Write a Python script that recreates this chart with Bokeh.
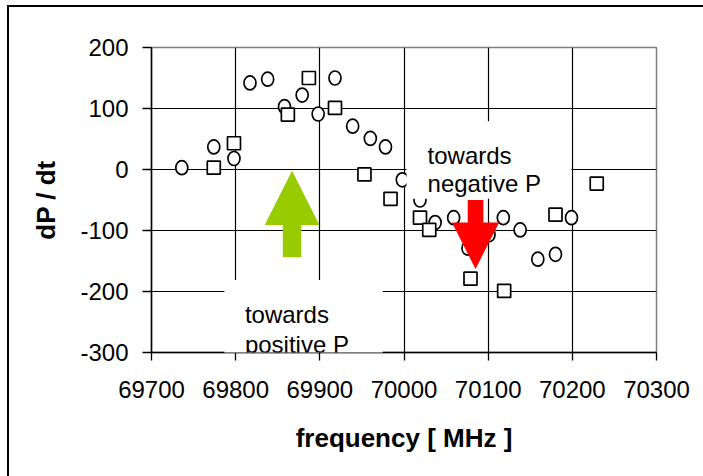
from bokeh.plotting import figure
from bokeh.models import BoxAnnotation, Label, FixedTicker
from bokeh.embed import file_html
from bokeh.resources import INLINE

# Measured dP/dt versus frequency, two series (circles and squares)
freq_circle = [69736, 69774, 69798, 69817, 69838, 69858, 69879, 69898, 69918,
               69939, 69960, 69978, 69998, 70019, 70037, 70059, 70076, 70101,
               70118, 70138, 70159, 70180, 70199]
dpdt_circle = [3, 37, 18, 142, 148, 103, 122, 91, 150,
               71, 51, 37, -17, -50, -87, -79, -129, -107,
               -79, -99, -147, -139, -79]

freq_square = [69774, 69798, 69862, 69887, 69918, 69953, 69984, 70019, 70030,
               70079, 70119, 70180, 70229]
dpdt_square = [3, 43, 90, 150, 101, -8, -48, -79, -99,
               -179, -199, -74, -23]

x_ticks = [69700, 69800, 69900, 70000, 70100, 70200, 70300]
y_ticks = [-300, -200, -100, 0, 100, 200]

FONT = "Liberation Sans"

p = figure(width=703, height=476,
           x_range=(69700, 70300), y_range=(-300, 200),
           output_backend="svg", toolbar_location=None,
           min_border_left=151, min_border_right=47,
           min_border_top=47, min_border_bottom=124,
           border_fill_color=None, background_fill_color="white",
           outline_line_color="#808080", outline_line_width=1.5)

# page frame: a black rule along the top and left edge
p.styles = {
    "background": "linear-gradient(#000,#000) 7px 5px / 2px 471px no-repeat, "
                  "linear-gradient(#000,#000) 7px 5px / 696px 2px no-repeat, #fff"
}

# axes
p.xaxis.ticker = FixedTicker(ticks=x_ticks)
p.yaxis.ticker = FixedTicker(ticks=y_ticks)
for ax in (p.xaxis, p.yaxis):
    ax.axis_line_color = "black"
    ax.axis_line_width = 1.5
    ax.major_tick_line_color = "black"
    ax.major_tick_line_width = 1.3
    ax.major_tick_in = 0
    ax.minor_tick_line_color = None
    ax.major_label_text_font = FONT
    ax.major_label_text_font_size = "24px"
    ax.major_label_text_color = "black"
    ax.axis_label_text_font = FONT
    ax.axis_label_text_font_style = "bold"
    ax.axis_label_text_color = "black"

# plain hyphen for negative tick values
p.yaxis.major_label_overrides = {t: str(t) for t in y_ticks}

p.xaxis.axis_label = "frequency [ MHz ]"
p.yaxis.axis_label = "dP / dt"
p.xaxis.axis_label_text_font_size = "26px"
p.yaxis.axis_label_text_font_size = "26px"
p.xaxis.major_tick_out = 8
p.yaxis.major_tick_out = 9
p.xaxis.major_label_standoff = 20
p.yaxis.major_label_standoff = 14
p.xaxis.axis_label_standoff = 22
p.yaxis.axis_label_standoff = 16

# interior grid lines only; the frame edges carry axis lines / outline
p.xgrid.ticker = FixedTicker(ticks=x_ticks[1:-1])
p.ygrid.ticker = FixedTicker(ticks=y_ticks[1:-1])
for g in (p.xgrid, p.ygrid):
    g.grid_line_color = "black"
    g.grid_line_width = 1.2
    g.grid_line_alpha = 1.0

# data markers
p.ellipse(freq_circle, dpdt_circle, width=12, height=14,
          width_units="screen", height_units="screen",
          fill_color="white", line_color="black", line_width=1.7)
p.scatter(freq_square, dpdt_square, marker="square", size=13,
          fill_color="white", line_color="black", line_width=1.7)


def block_arrow(xc, tail, base, tip, shaft_half, head_half):
    xs = [xc - shaft_half, xc - shaft_half, xc - head_half, xc,
          xc + head_half, xc + shaft_half, xc + shaft_half]
    ys = [tail, base, base, tip, base, base, tail]
    return xs, ys


# green arrow: shift towards positive P
gx, gy = block_arrow(69867, -144, -91, -2, 11, 32.5)
p.patch(gx, gy, fill_color="#99CC00", line_color=None)

# red arrow: shift towards negative P
rx, ry = block_arrow(70085, -50, -87, -163, 9.3, 28)
p.patch(rx, ry, fill_color="#FF0000", line_color=None)

# white text panels
p.add_layout(BoxAnnotation(left=70003, right=70199, top=79, bottom=-48,
                           fill_color="white", fill_alpha=1.0, line_color=None))
# lower panel reaches past the x axis, so it is drawn as an unclipped label box
# padding order: (left, right, top, bottom)
p.add_layout(Label(x=69880.6, y=-245.9, text=" ", text_font_size="1px",
                   text_align="center", text_baseline="middle",
                   background_fill_color="white", background_fill_alpha=1.0,
                   border_line_color=None, padding=(79, 79, 39, 39),
                   level="overlay"))


def add_text(x, y, txt):
    p.add_layout(Label(x=x, y=y, text=txt, text_font=FONT,
                       text_font_size="24px", text_color="black",
                       text_align="left", text_baseline="alphabetic",
                       level="overlay"))


add_text(70028, 22.6, "towards")
add_text(70028, -22.8, "negative P")
add_text(69811, -238.5, "towards")
add_text(69811, -287, "positive P")

open("out.html", "w").write(file_html(p, INLINE))
